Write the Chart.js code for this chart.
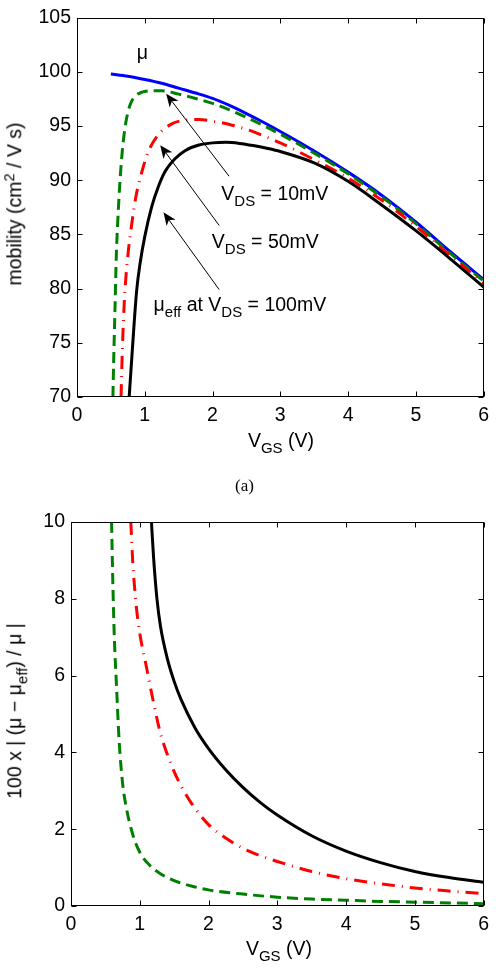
<!DOCTYPE html>
<html><head><meta charset="utf-8">
<script src="https://cdn.jsdelivr.net/npm/chart.js@4.4.0/dist/chart.umd.min.js"></script>
<style>
html,body{margin:0;padding:0;background:#fff;}
#page{position:relative;width:496px;height:980px;overflow:hidden;font-family:"Liberation Sans",Arial,sans-serif;color:#000;}
.cw{position:absolute;left:0;width:496px;}
canvas{display:block;}
.t{position:absolute;white-space:nowrap;font-size:19.5px;line-height:1;}
.t sub{font-size:0.77em;vertical-align:-0.42em;line-height:0;}
.t sup{font-size:0.75em;vertical-align:0.45em;line-height:0;}
.rot{transform:translate(-50%,-50%) rotate(-90deg);}
.ctr{transform:translateX(-50%);}
.serif{font-family:"Liberation Serif","Times New Roman",serif;font-size:17px;}
</style></head>
<body><div id="page">
<div class="cw" style="top:0;height:430px"><canvas id="c1" width="496" height="430"></canvas></div>
<div class="cw" style="top:500px;height:440px"><canvas id="c2" width="496" height="440"></canvas></div>

<div class="t rot" style="left:15px;top:204px">mobility (cm<sup>2</sup> / V s)</div>
<div class="t ctr" style="left:281px;top:430.5px">V<sub>GS</sub> (V)</div>
<div class="t serif" style="left:235px;top:477px">(a)</div>
<div class="t rot" style="left:15px;top:711px">100 x | (μ − μ<sub>eff</sub>) / μ |</div>
<div class="t ctr" style="left:279px;top:938.5px">V<sub>GS</sub> (V)</div>

<div class="t" id="lblMu">μ</div>
<div class="t" id="lbl10">V<sub>DS</sub> = 10mV</div>
<div class="t" id="lbl50">V<sub>DS</sub> = 50mV</div>
<div class="t" id="lbl100">μ<sub>eff</sub> at V<sub>DS</sub> = 100mV</div>
</div>
<script>
// ---------- data ----------
const xTicks = [0, 1, 2, 3, 4, 5, 6];
const yTicksTop = [70, 75, 80, 85, 90, 95, 100, 105];
const yTicksBottom = [0, 2, 4, 6, 8, 10];

// (a) mobility, cm^2/Vs
const vgsMu = [0.5, 0.75, 1.0, 1.25, 1.5, 1.75, 2.0, 2.25, 2.5, 2.75, 3.0, 3.5, 4.0, 4.5, 5.0, 5.5, 6.0];
const mu    = [99.8, 99.6, 99.3, 98.95, 98.5, 98.05, 97.55, 96.9, 96.15, 95.35, 94.5, 92.7, 90.75, 88.6, 86.15, 83.45, 80.85];

const vgs10  = [0.53, 0.54, 0.56, 0.58, 0.60, 0.63, 0.67, 0.72, 0.78, 0.85, 0.95, 1.1, 1.25, 1.5, 1.75, 2.0, 2.25, 2.5, 2.75, 3.0, 3.5, 4.0, 4.5, 5.0, 5.5, 6.0];
const mueff10 = [70.0, 73.0, 78.0, 83.0, 86.0, 89.5, 92.8, 95.3, 96.9, 97.7, 98.1, 98.25, 98.25, 97.95, 97.55, 97.1, 96.5, 95.8, 95.05, 94.25, 92.5, 90.6, 88.45, 86.0, 83.3, 80.7];

const vgs50  = [0.65, 0.67, 0.70, 0.75, 0.80, 0.87, 0.95, 1.05, 1.2, 1.4, 1.6, 1.8, 2.0, 2.25, 2.5, 2.75, 3.0, 3.5, 4.0, 4.5, 5.0, 5.5, 6.0];
const mueff50 = [70.0, 74.5, 79.0, 83.0, 85.6, 88.5, 90.6, 92.6, 94.2, 95.2, 95.55, 95.6, 95.45, 95.15, 94.7, 94.1, 93.45, 91.9, 90.2, 88.15, 85.75, 83.1, 80.5];

const vgs100  = [0.77, 0.80, 0.84, 0.88, 0.93, 1.0, 1.1, 1.2, 1.3, 1.45, 1.6, 1.8, 2.0, 2.2, 2.4, 2.6, 2.8, 3.0, 3.5, 4.0, 4.5, 5.0, 5.5, 6.0];
const mueff100 = [70.0, 72.8, 76.5, 79.8, 82.3, 84.8, 87.5, 89.4, 90.8, 92.0, 92.75, 93.25, 93.45, 93.5, 93.4, 93.2, 92.95, 92.65, 91.6, 89.9, 87.7, 85.35, 82.8, 80.15];

// (b) 100 x |(mu - mu_eff)/mu|
const vgsErr10 = [0.59, 0.61, 0.63, 0.66, 0.7, 0.75, 0.8, 0.9, 1.0, 1.15, 1.3, 1.5, 1.75, 2.0, 2.5, 3.0, 3.5, 4.0, 4.5, 5.0, 5.5, 6.0];
const err10    = [10.0, 8.3, 7.0, 5.8, 4.3, 3.2, 2.6, 1.85, 1.4, 1.05, 0.84, 0.66, 0.52, 0.42, 0.31, 0.23, 0.18, 0.15, 0.12, 0.1, 0.08, 0.06];

const vgsErr50 = [0.87, 0.9, 0.95, 1.0, 1.1, 1.2, 1.3, 1.4, 1.5, 1.6, 1.75, 2.0, 2.25, 2.5, 2.75, 3.0, 3.5, 4.0, 4.5, 5.0, 5.5, 6.0];
const err50    = [10.0, 8.9, 7.8, 7.1, 6.2, 5.3, 4.5, 3.95, 3.5, 3.13, 2.68, 2.12, 1.77, 1.5, 1.31, 1.16, 0.9, 0.71, 0.58, 0.47, 0.39, 0.32];

const vgsErr100 = [1.17, 1.2, 1.25, 1.3, 1.4, 1.5, 1.6, 1.8, 2.0, 2.25, 2.5, 2.75, 3.0, 3.5, 4.0, 4.5, 5.0, 5.5, 6.0];
const err100    = [10.0, 9.1, 8.0, 7.3, 6.45, 5.85, 5.38, 4.65, 4.1, 3.55, 3.09, 2.7, 2.37, 1.83, 1.43, 1.13, 0.9, 0.74, 0.62];

// annotations (data units)
const arrows = [
  {from: [2.244, 90.37], to: [1.316, 97.98]},
  {from: [2.098, 85.83], to: [1.228, 93.24]},
  {from: [2.098, 79.91], to: [1.276, 87.04]}
];
const labels = [
  {id: 'lblMu', at: [0.88, 101.17]},
  {id: 'lbl10', at: [2.13, 88.14]},
  {id: 'lbl50', at: [1.99, 83.67]},
  {id: 'lbl100', at: [1.13, 77.9]}
];

// ---------- helpers ----------
const pts = (xs, ys) => xs.map((x, i) => ({x, y: ys[i]}));
const FONT = {family: '"Liberation Sans", Arial, sans-serif', size: 19.5};
const C_BLUE = '#0000ff', C_GREEN = '#008000', C_RED = '#ff0000', C_BLACK = '#000000';

function ds(data, color, dash, order) {
  return {data, borderColor: color, borderWidth: 3, borderDash: dash, pointRadius: 0,
          fill: false, cubicInterpolationMode: 'monotone', order, borderCapStyle: 'butt'};
}

const framePlugin = {
  id: 'frame',
  afterDatasetsDraw(chart) {
    const {ctx, chartArea: a, scales: {x, y}} = chart;
    const L = Math.round(a.left) + 0.5, R = Math.round(a.right) - 0.5;
    const T = Math.round(a.top) + 0.5, B = Math.round(a.bottom) - 0.5;
    const tl = 5;
    ctx.save();
    ctx.strokeStyle = '#000'; ctx.lineWidth = 1;
    ctx.strokeRect(L, T, R - L, B - T);
    ctx.beginPath();
    x.ticks.forEach(t => {
      const p = Math.round(x.getPixelForValue(t.value)) + 0.5;
      ctx.moveTo(p, B); ctx.lineTo(p, B - tl);
      ctx.moveTo(p, T); ctx.lineTo(p, T + tl);
    });
    y.ticks.forEach(t => {
      const p = Math.round(y.getPixelForValue(t.value)) + 0.5;
      ctx.moveTo(L, p); ctx.lineTo(L + tl, p);
      ctx.moveTo(R, p); ctx.lineTo(R - tl, p);
    });
    ctx.stroke();
    ctx.restore();
  }
};

const annotPlugin = {
  id: 'annot',
  afterDraw(chart) {
    const {ctx, scales: {x, y}} = chart;
    const off = chart.canvas.parentNode.offsetTop;
    ctx.save();
    ctx.strokeStyle = '#000'; ctx.fillStyle = '#000'; ctx.lineWidth = 1;
    arrows.forEach(a => {
      const x0 = x.getPixelForValue(a.from[0]), y0 = y.getPixelForValue(a.from[1]);
      const x1 = x.getPixelForValue(a.to[0]), y1 = y.getPixelForValue(a.to[1]);
      const dx = x1 - x0, dy = y1 - y0, len = Math.hypot(dx, dy);
      const ux = dx / len, uy = dy / len, nx = -uy, ny = ux;
      const L = 13, W = 5.5;
      const bx = x1 - ux * L, by = y1 - uy * L;
      const kx = x1 - ux * L * 0.72, ky = y1 - uy * L * 0.72;
      ctx.beginPath(); ctx.moveTo(x0, y0); ctx.lineTo(kx, ky); ctx.stroke();
      ctx.beginPath();
      ctx.moveTo(x1, y1);
      ctx.lineTo(bx + nx * W, by + ny * W);
      ctx.lineTo(kx, ky);
      ctx.lineTo(bx - nx * W, by - ny * W);
      ctx.closePath(); ctx.fill();
    });
    ctx.restore();
    labels.forEach(l => {
      const el = document.getElementById(l.id);
      el.style.left = x.getPixelForValue(l.at[0]) + 'px';
      el.style.top = (off + y.getPixelForValue(l.at[1]) - 0.8465 * 19.5) + 'px';
    });
  }
};

function baseOptions(yMin, yMax, yTicks, yWidth, xHeight, padding) {
  return {
    responsive: false, animation: false, events: [],
    layout: {padding},
    plugins: {legend: {display: false}, tooltip: {enabled: false}},
    scales: {
      x: {type: 'linear', min: 0, max: 6,
          afterBuildTicks: s => { s.ticks = xTicks.map(v => ({value: v})); },
          afterFit: s => { s.height = xHeight; },
          grid: {display: false, drawTicks: false}, border: {display: false},
          ticks: {color: '#000', font: FONT, padding: 7, maxRotation: 0, autoSkip: false}},
      y: {type: 'linear', min: yMin, max: yMax,
          afterBuildTicks: s => { s.ticks = yTicks.map(v => ({value: v})); },
          afterFit: s => { s.width = yWidth; },
          grid: {display: false, drawTicks: false}, border: {display: false},
          ticks: {color: '#000', font: FONT, padding: 6, autoSkip: false}}
    }
  };
}

new Chart(document.getElementById('c1'), {
  type: 'line',
  data: {datasets: [
    ds(pts(vgs100, mueff100), C_BLACK, [], 1),
    ds(pts(vgs50, mueff50), C_RED, [13, 7, 1, 7], 2),
    ds(pts(vgs10, mueff10), C_GREEN, [11, 6], 3),
    ds(pts(vgsMu, mu), C_BLUE, [], 4)
  ]},
  options: baseOptions(70, 105, yTicksTop, 77, 33, {top: 13, right: 10, left: 0, bottom: 0}),
  plugins: [framePlugin, annotPlugin]
});

new Chart(document.getElementById('c2'), {
  type: 'line',
  data: {datasets: [
    ds(pts(vgsErr100, err100), C_BLACK, [], 1),
    ds(pts(vgsErr50, err50), C_RED, [13, 7, 1, 7], 2),
    ds(pts(vgsErr10, err10), C_GREEN, [11, 6], 3)
  ]},
  options: baseOptions(0, 10, yTicksBottom, 71, 34, {top: 22, right: 9, left: 0, bottom: 0}),
  plugins: [framePlugin]
});
</script>
</body></html>
